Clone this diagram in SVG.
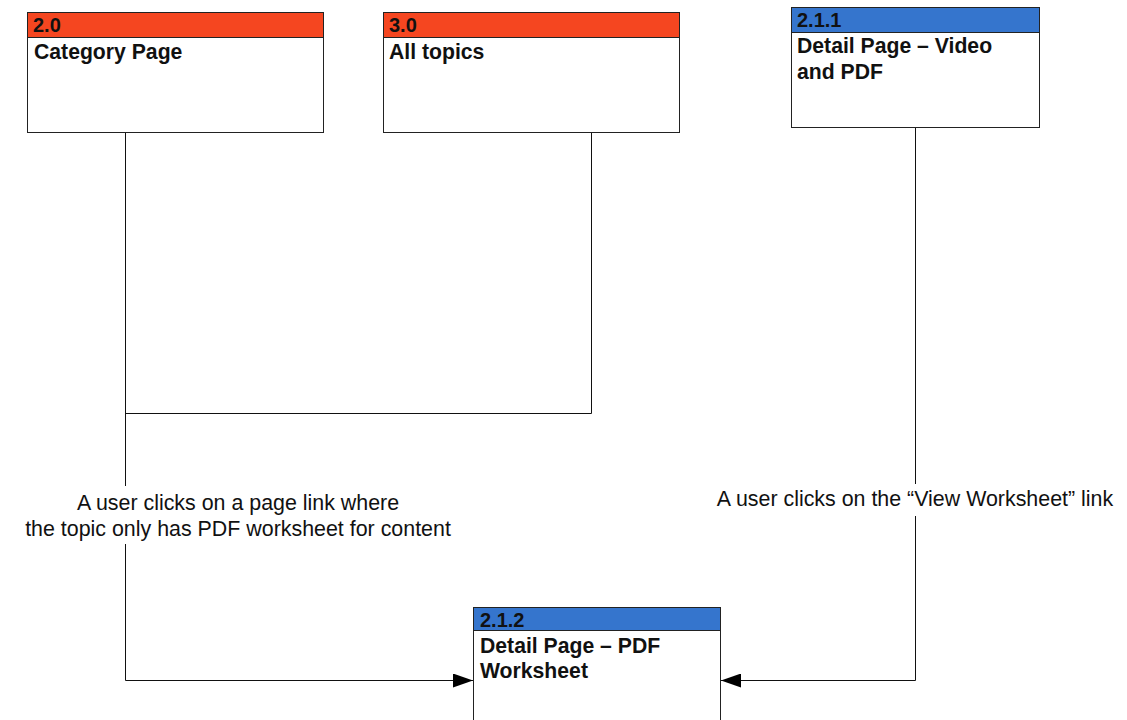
<svg xmlns="http://www.w3.org/2000/svg" width="1127" height="720" viewBox="0 0 1127 720">
<defs>
<style>
.box{fill:#fff;stroke:#222;stroke-width:1}
.hdr-o{fill:#F54620;stroke:#222;stroke-width:1}
.hdr-b{fill:#3575CD;stroke:#222;stroke-width:1}
.id{font-family:"Liberation Sans",Arial,sans-serif;font-weight:bold;font-size:20px;fill:#111}
.ttl{font-family:"Liberation Sans",Arial,sans-serif;font-weight:bold;font-size:21.2px;fill:#111}
.lbl{font-family:"Liberation Sans",Arial,sans-serif;font-size:21.4px;fill:#111;text-anchor:middle}
.conn{fill:none;stroke:#111;stroke-width:1}
</style>
<marker id="arr" markerWidth="20" markerHeight="14" refX="20" refY="7" orient="auto" markerUnits="userSpaceOnUse">
<path d="M0,0 L20,7 L0,14 Z" fill="#000"/>
</marker>
</defs>
<rect width="1127" height="720" fill="#fff"/>
<g id="connectors">
<path class="conn" d="M125.5,132 V680.5 H473" marker-end="url(#arr)"/>
<path class="conn" d="M591.5,132 V413.5 H125.5"/>
<path class="conn" d="M915.5,127 V680.5 H721" marker-end="url(#arr)"/>
<rect x="22" y="486" width="432" height="58" fill="#fff"/>
<rect x="712" y="484" width="406" height="32" fill="#fff"/>
<text class="lbl" x="238" y="510">A user clicks on a page link where</text>
<text class="lbl" x="238" y="536">the topic only has PDF worksheet for content</text>
<text class="lbl" x="915" y="506">A user clicks on the “View Worksheet” link</text>
</g>
<g id="node-2-0">
<rect class="box" x="27.5" y="12.5" width="296" height="120"/>
<rect class="hdr-o" x="27.5" y="12.5" width="296" height="25"/>
<text class="id" x="33" y="32">2.0</text>
<text class="ttl" x="34" y="59">Category Page</text>
</g>
<g id="node-3-0">
<rect class="box" x="383.5" y="12.5" width="296" height="120"/>
<rect class="hdr-o" x="383.5" y="12.5" width="296" height="25"/>
<text class="id" x="389" y="32">3.0</text>
<text class="ttl" x="389" y="59">All topics</text>
</g>
<g id="node-2-1-1">
<rect class="box" x="791.5" y="7.5" width="248" height="120"/>
<rect class="hdr-b" x="791.5" y="7.5" width="248" height="25"/>
<text class="id" x="797" y="27">2.1.1</text>
<text class="ttl" x="797" y="53">Detail Page – Video</text>
<text class="ttl" x="797" y="79">and PDF</text>
</g>
<g id="node-2-1-2">
<rect class="box" x="473.5" y="607.5" width="247" height="130"/>
<rect class="hdr-b" x="473.5" y="607.5" width="247" height="23"/>
<text class="id" x="480" y="627">2.1.2</text>
<text class="ttl" x="480" y="653">Detail Page – PDF</text>
<text class="ttl" x="480" y="678">Worksheet</text>
</g>
</svg>
